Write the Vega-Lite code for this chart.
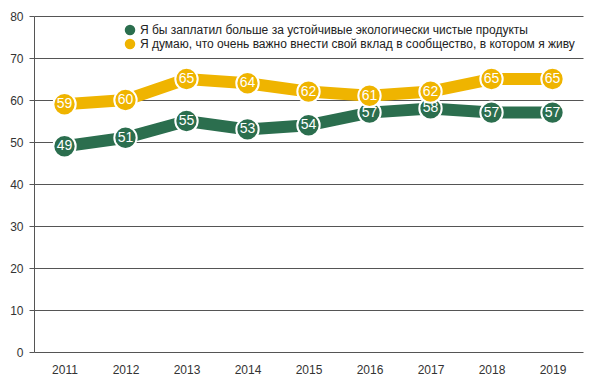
{
  "$schema": "https://vega.github.io/schema/vega-lite/v6.json",
  "width": 549,
  "height": 336,
  "autosize": {"type": "none"},
  "padding": {"left": 34, "top": 16, "right": 11, "bottom": 32},
  "background": "white",
  "config": {
    "font": "Liberation Sans",
    "view": {"stroke": null}
  },
  "data": {
    "values": [
      {"year": "2011", "series": "Я бы заплатил больше за устойчивые экологически чистые продукты", "value": 49},
      {"year": "2012", "series": "Я бы заплатил больше за устойчивые экологически чистые продукты", "value": 51},
      {"year": "2013", "series": "Я бы заплатил больше за устойчивые экологически чистые продукты", "value": 55},
      {"year": "2014", "series": "Я бы заплатил больше за устойчивые экологически чистые продукты", "value": 53},
      {"year": "2015", "series": "Я бы заплатил больше за устойчивые экологически чистые продукты", "value": 54},
      {"year": "2016", "series": "Я бы заплатил больше за устойчивые экологически чистые продукты", "value": 57},
      {"year": "2017", "series": "Я бы заплатил больше за устойчивые экологически чистые продукты", "value": 58},
      {"year": "2018", "series": "Я бы заплатил больше за устойчивые экологически чистые продукты", "value": 57},
      {"year": "2019", "series": "Я бы заплатил больше за устойчивые экологически чистые продукты", "value": 57},
      {"year": "2011", "series": "Я думаю, что очень важно внести свой вклад в сообщество, в котором я живу", "value": 59},
      {"year": "2012", "series": "Я думаю, что очень важно внести свой вклад в сообщество, в котором я живу", "value": 60},
      {"year": "2013", "series": "Я думаю, что очень важно внести свой вклад в сообщество, в котором я живу", "value": 65},
      {"year": "2014", "series": "Я думаю, что очень важно внести свой вклад в сообщество, в котором я живу", "value": 64},
      {"year": "2015", "series": "Я думаю, что очень важно внести свой вклад в сообщество, в котором я живу", "value": 62},
      {"year": "2016", "series": "Я думаю, что очень важно внести свой вклад в сообщество, в котором я живу", "value": 61},
      {"year": "2017", "series": "Я думаю, что очень важно внести свой вклад в сообщество, в котором я живу", "value": 62},
      {"year": "2018", "series": "Я думаю, что очень важно внести свой вклад в сообщество, в котором я живу", "value": 65},
      {"year": "2019", "series": "Я думаю, что очень важно внести свой вклад в сообщество, в котором я живу", "value": 65}
    ]
  },
  "encoding": {
    "x": {
      "field": "year", "type": "ordinal", "title": null,
      "scale": {"type": "point", "padding": 0.5},
      "axis": {"labelAngle": 0, "domain": false, "ticks": false, "grid": false, "labelFontSize": 12, "labelColor": "#333", "labelPadding": 12}
    },
    "y": {
      "field": "value", "type": "quantitative", "title": null,
      "scale": {"domain": [0, 80], "nice": false},
      "axis": {"values": [0,10,20,30,40,50,60,70,80], "grid": true, "gridColor": "#555", "gridWidth": 1, "domain": true, "domainColor": "#555", "tickColor": "#555", "tickSize": 5, "labelFontSize": 12, "labelColor": "#333", "labelPadding": 6}
    },
    "color": {
      "field": "series", "type": "nominal",
      "scale": {
        "domain": ["Я бы заплатил больше за устойчивые экологически чистые продукты", "Я думаю, что очень важно внести свой вклад в сообщество, в котором я живу"],
        "range": ["#2b6e4e", "#efb400"]
      },
      "legend": {"title": null, "orient": "none", "legendX": 90, "legendY": 8, "symbolType": "circle", "symbolSize": 110, "symbolStrokeWidth": 0, "labelFontSize": 12, "labelColor": "#222", "rowPadding": 2, "labelLimit": 600, "symbolOpacity": 1}
    }
  },
  "layer": [
    {"mark": {"type": "line", "strokeWidth": 12}},
    {"mark": {"type": "point", "filled": true, "size": 500, "stroke": "white", "strokeWidth": 2, "opacity": 1}},
    {"mark": {"type": "text", "color": "white", "fontSize": 14, "baseline": "middle", "align": "center"}, "encoding": {"text": {"field": "value"}, "color": {"value": "white"}}}
  ]
}
